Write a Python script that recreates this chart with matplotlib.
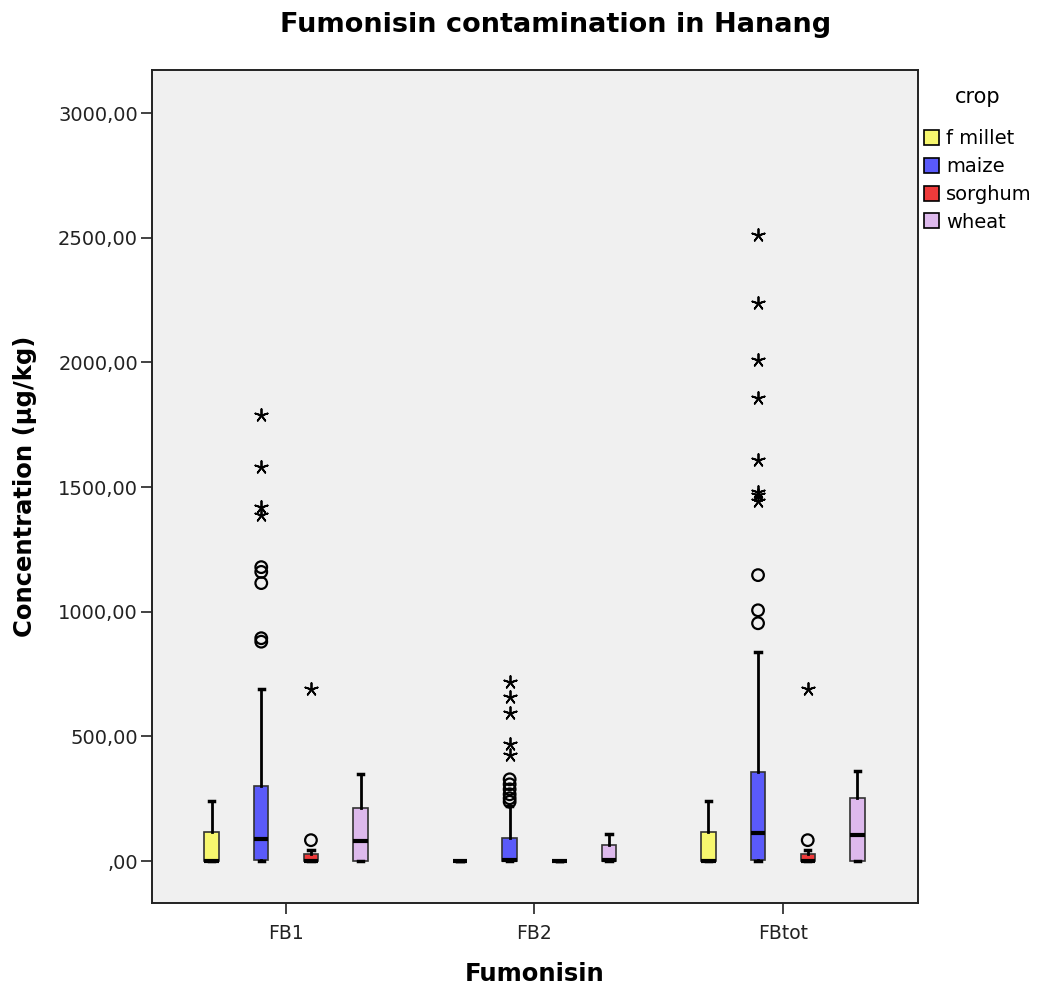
import matplotlib
matplotlib.use("Agg")
import matplotlib.pyplot as plt
from matplotlib.patches import Patch

plt.rcParams['font.family'] = ['DejaVu Sans']

# categories and groups
fumonisins = ['FB1', 'FB2', 'FBtot']
crops = ['f millet', 'maize', 'sorghum', 'wheat']
crop_colors = ['#F7F76E', '#5A5AFA', '#EE3A3A', '#DDB9EC']

# box statistics per fumonisin, one value per crop (f millet, maize, sorghum, wheat)
q1 = {'FB1': [0, 3, 0, 0], 'FB2': [0, 2, 0, 0], 'FBtot': [0, 3, 0, 0]}
median = {'FB1': [0, 88, 2, 80], 'FB2': [0, 5, 0, 3], 'FBtot': [0, 112, 2, 104]}
q3 = {'FB1': [117, 300, 28, 212], 'FB2': [0, 92, 0, 64], 'FBtot': [117, 357, 28, 253]}
whis_lo = {'FB1': [0, 0, 0, 0], 'FB2': [0, 0, 0, 0], 'FBtot': [0, 0, 0, 0]}
whis_hi = {'FB1': [240, 690, 44, 349], 'FB2': [0, 220, 0, 108], 'FBtot': [240, 838, 44, 361]}

# outliers: circles (mild) and stars (extreme), given as (fumonisin, crop index, value)
circles = [
    ('FB1', 1, 880), ('FB1', 1, 894), ('FB1', 1, 1115), ('FB1', 1, 1160), ('FB1', 1, 1179),
    ('FB1', 2, 84),
    ('FB2', 1, 238), ('FB2', 1, 252), ('FB2', 1, 268), ('FB2', 1, 288), ('FB2', 1, 308), ('FB2', 1, 328),
    ('FBtot', 1, 954), ('FBtot', 1, 1006), ('FBtot', 1, 1147),
    ('FBtot', 2, 84),
]
stars = [
    ('FB1', 1, 1388), ('FB1', 1, 1420), ('FB1', 1, 1580), ('FB1', 1, 1790),
    ('FB1', 2, 690),
    ('FB2', 1, 425), ('FB2', 1, 470), ('FB2', 1, 593), ('FB2', 1, 658), ('FB2', 1, 718),
    ('FBtot', 1, 1445), ('FBtot', 1, 1468), ('FBtot', 1, 1480), ('FBtot', 1, 1608),
    ('FBtot', 1, 1857), ('FBtot', 1, 2009), ('FBtot', 1, 2238), ('FBtot', 1, 2510),
    ('FBtot', 2, 690),
]

y_ticks = [0, 500, 1000, 1500, 2000, 2500, 3000]
y_tick_labels = [',00', '500,00', '1000,00', '1500,00', '2000,00', '2500,00', '3000,00']

offsets = [-0.3, -0.1, 0.1, 0.3]
box_w = 0.058

fig = plt.figure(figsize=(10.38, 9.91), dpi=100)
ax = fig.add_axes([0.1464, 0.0888, 0.738, 0.8406])
ax.set_facecolor('#F0F0F0')

for gi, fb in enumerate(fumonisins):
    for ci in range(len(crops)):
        stats = [{
            'q1': q1[fb][ci], 'med': median[fb][ci], 'q3': q3[fb][ci],
            'whislo': whis_lo[fb][ci], 'whishi': whis_hi[fb][ci], 'fliers': [],
        }]
        ax.bxp(stats, positions=[gi + offsets[ci]], widths=box_w, patch_artist=True,
               showfliers=False, capwidths=0.022, manage_ticks=False,
               boxprops=dict(facecolor=crop_colors[ci], edgecolor='#333333', linewidth=1.2),
               medianprops=dict(color='black', linewidth=3, solid_capstyle='butt'),
               whiskerprops=dict(color='black', linewidth=2),
               capprops=dict(color='black', linewidth=2.5))

cx = [fumonisins.index(f) + offsets[c] for f, c, v in circles]
cy = [v for f, c, v in circles]
ax.scatter(cx, cy, s=70, facecolors='none', edgecolors='black', linewidths=1.6, zorder=4)

sx = [fumonisins.index(f) + offsets[c] for f, c, v in stars]
sy = [v for f, c, v in stars]
ax.scatter(sx, sy, s=85, marker=(5, 2, 0), color='black', linewidths=1.3, zorder=4)

ax.set_xlim(-0.54, 2.544)
ax.set_ylim(-168, 3173)
ax.set_yticks(y_ticks)
ax.set_yticklabels(y_tick_labels, fontsize=14)
ax.set_xticks(range(len(fumonisins)))
ax.set_xticklabels(fumonisins, fontsize=13.5)
ax.tick_params(axis='both', direction='out', length=8, width=1.2, colors='#222222')
ax.tick_params(axis='y', pad=2)
ax.tick_params(axis='x', pad=7)
for sp in ax.spines.values():
    sp.set_linewidth(1.4)
    sp.set_color('#222222')

ax.set_xlabel('Fumonisin', fontsize=17.5, fontweight='bold')
ax.xaxis.set_label_coords(0.5, -0.0708)
ax.set_ylabel('Concentration (\u00b5g/kg)', fontsize=17.5, fontweight='bold')
ax.yaxis.set_label_coords(-0.150, 0.5)
fig.text(0.5357, 1 - 32 / 991, 'Fumonisin contamination in Hanang', fontsize=19.5,
         fontweight='bold', ha='center', va='baseline')

handles = [Patch(facecolor=c, edgecolor='black', linewidth=1.2) for c in crop_colors]
leg = fig.legend(handles, crops, title='crop', loc='upper left', bbox_to_anchor=(0.890, 0.912),
                 frameon=False, fontsize=14, title_fontsize=15, handlelength=0.8,
                 handleheight=0.8, handletextpad=0.35, labelspacing=0.45, borderaxespad=0,
                 borderpad=0)
leg._legend_box.sep = 16

fig.savefig('out.png', dpi=100)
